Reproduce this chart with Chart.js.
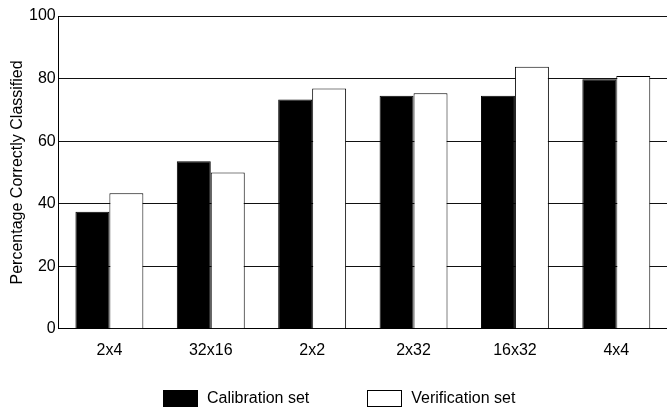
<!DOCTYPE html>
<html>
<head>
<meta charset="utf-8">
<script src="https://cdn.jsdelivr.net/npm/chart.js@4"></script>
<style>
  html, body { margin: 0; padding: 0; background: #fff; }
  #wrap { position: relative; width: 667px; height: 412px; overflow: hidden; }
  #legend { position: absolute; left: 163px; top: 389px; display: flex; align-items: center;
    font-family: "Liberation Sans", Arial, sans-serif; font-size: 16px; color: #000; }
  #legend .item { display: flex; align-items: center; margin-right: 58px; }
  #legend .sw { width: 35px; height: 17px; box-sizing: border-box; border: 1px solid #000; margin-right: 9px; }
</style>
</head>
<body>
<div id="wrap">
  <canvas id="chart" width="667" height="412"></canvas>
  <div id="legend"></div>
</div>
<script>
const categories = ['2x4', '32x16', '2x2', '2x32', '16x32', '4x4'];
const calibration = [37.4, 53.6, 73.3, 74.5, 74.5, 79.8];
const verification = [43.3, 50, 76.8, 75.3, 83.8, 80.8];
const seriesNames = ['Calibration set', 'Verification set'];
const seriesFills = ['#000000', '#ffffff'];
const yTicks = [0, 20, 40, 60, 80, 100];

const font = { family: '"Liberation Sans", Arial, sans-serif', size: 16 };

const chart = new Chart(document.getElementById('chart').getContext('2d'), {
  type: 'bar',
  data: {
    labels: categories,
    datasets: [
      {
        label: seriesNames[0],
        data: calibration,
        backgroundColor: seriesFills[0],
        borderColor: '#000',
        borderWidth: 1
      },
      {
        label: seriesNames[1],
        data: verification,
        backgroundColor: seriesFills[1],
        borderColor: '#000',
        borderWidth: 1
      }
    ]
  },
  options: {
    responsive: false,
    animation: false,
    layout: { padding: { top: 16, right: 0, bottom: 40, left: 0 } },
    categoryPercentage: 0.67,
    barPercentage: 1.0,
    plugins: { legend: { display: false }, tooltip: { enabled: false } },
    scales: {
      x: {
        grid: { display: false, drawTicks: false },
        border: { color: '#000', width: 1 },
        ticks: { color: '#000', font, padding: 12 }
      },
      y: {
        min: 0,
        max: 100,
        afterBuildTicks: (axis) => { axis.ticks = yTicks.map((v) => ({ value: v })); },
        grid: { color: '#111', lineWidth: 1, drawTicks: false },
        border: { color: '#000', width: 1 },
        ticks: { color: '#000', font, padding: 3 },
        title: {
          display: true,
          text: 'Percentage Correctly Classified',
          color: '#000',
          font: { family: font.family, size: 16, lineHeight: 1 },
          padding: { top: 10, bottom: 0 }
        }
      }
    }
  }
});

// legend in HTML so the wide gap between the two items can match
const legend = document.getElementById('legend');
chart.data.datasets.forEach((ds) => {
  const item = document.createElement('div');
  item.className = 'item';
  const sw = document.createElement('span');
  sw.className = 'sw';
  sw.style.background = ds.backgroundColor;
  const txt = document.createElement('span');
  txt.textContent = ds.label;
  item.appendChild(sw);
  item.appendChild(txt);
  legend.appendChild(item);
});
</script>
</body>
</html>
